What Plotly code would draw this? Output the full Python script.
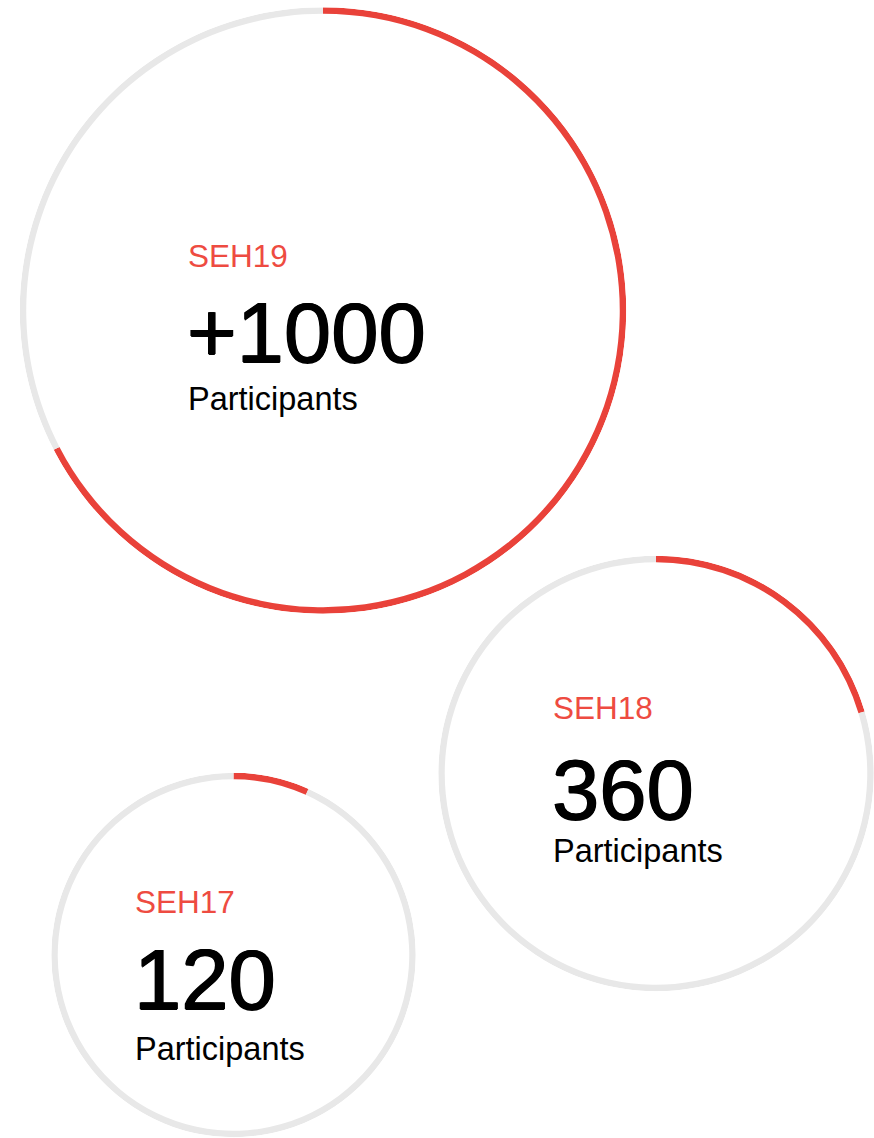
import plotly.graph_objects as go

# ---- data ----
labels = ["SEH19", "SEH18", "SEH17"]
counts = ["+1000", "360", "120"]
captions = ["Participants", "Participants", "Participants"]
progress = [0.674, 0.204, 0.0675]  # share of each ring drawn in red

# ---- layout / style ----
W, H = 874, 1138
centers = [(323, 310.5), (656, 773.5), (233.5, 955)]
radii = [300, 214.5, 179]
stroke = 6.5
RED = "#E9423A"
RED_TEXT = "#EE4B41"
GRAY = "#E8E8E8"
FONT = "Liberation Sans"

# text anchors, relative offsets to circle centre (px): left, label mid, number mid, caption mid
text_left = [-137, -105, -100.5]
label_mid = [-54, -66, -53]
number_mid = [22, 16, 24]
caption_mid = [88, 77, 94]

fig = go.Figure()
shapes = []
annotations = []

for i, (lab, cnt, cap, frac) in enumerate(zip(labels, counts, captions, progress)):
    cx, cy = centers[i]
    R = radii[i]
    outer = R + stroke / 2
    inner = R - stroke / 2
    base = inner / outer
    pid = "polar" if i == 0 else f"polar{i+1}"
    sub = "polar" if i == 0 else f"polar{i+1}"

    # soft upward shadow
    for k in range(14):
        extra = 2 + k * 3.0
        off = 6 + 0.8 * extra
        shapes.append(dict(
            type="circle", xref="paper", yref="paper", layer="below",
            x0=(cx - outer - extra) / W, x1=(cx + outer + extra) / W,
            y0=1 - (cy - off + outer + extra) / H, y1=1 - (cy - off - outer - extra) / H,
            fillcolor="rgba(0,0,0,0.0013)", line=dict(width=0),
        ))

    red_span = frac * 360
    fig.add_trace(go.Barpolar(
        subplot=sub, r=[1 - base], base=[base], theta=[red_span / 2], width=[red_span],
        marker=dict(color=RED, line=dict(width=0)), hoverinfo="skip", showlegend=False,
    ))
    fig.add_trace(go.Barpolar(
        subplot=sub, r=[1 - base], base=[base], theta=[red_span + (360 - red_span) / 2],
        width=[360 - red_span],
        marker=dict(color=GRAY, line=dict(width=0)), hoverinfo="skip", showlegend=False,
    ))

    fig.update_layout(**{pid: dict(
        domain=dict(x=[(cx - outer) / W, (cx + outer) / W],
                    y=[1 - (cy + outer) / H, 1 - (cy - outer) / H]),
        bgcolor="white",
        radialaxis=dict(visible=False, range=[0, 1]),
        angularaxis=dict(visible=False, direction="clockwise", rotation=90),
        barmode="overlay",
    )})

    lx = (cx + text_left[i]) / W
    annotations.append(dict(text=lab, x=lx, y=1 - (cy + label_mid[i]) / H, xref="paper", yref="paper",
                            xanchor="left", yanchor="middle", showarrow=False,
                            font=dict(family=FONT, size=31.5, color=RED_TEXT)))
    annotations.append(dict(text=cnt, x=lx - 1 / W, y=1 - (cy + number_mid[i]) / H, xref="paper", yref="paper",
                            xanchor="left", yanchor="middle", showarrow=False,
                            font=dict(family=FONT, size=85, color="#000000",
                                      shadow="0.7px 0 0 #000, -0.7px 0 0 #000, 0 0.5px 0 #000")))
    annotations.append(dict(text=cap, x=lx, y=1 - (cy + caption_mid[i]) / H, xref="paper", yref="paper",
                            xanchor="left", yanchor="middle", showarrow=False,
                            font=dict(family=FONT, size=32.5, color="#000000")))

fig.update_layout(
    width=W, height=H, margin=dict(l=0, r=0, t=0, b=0),
    paper_bgcolor="white", plot_bgcolor="white",
    shapes=shapes, annotations=annotations, showlegend=False, hovermode=False,
)

fig.write_html("out.html", config={"displayModeBar": False, "staticPlot": True},
               post_script="document.body.style.margin='0';document.body.style.overflow='hidden';")
